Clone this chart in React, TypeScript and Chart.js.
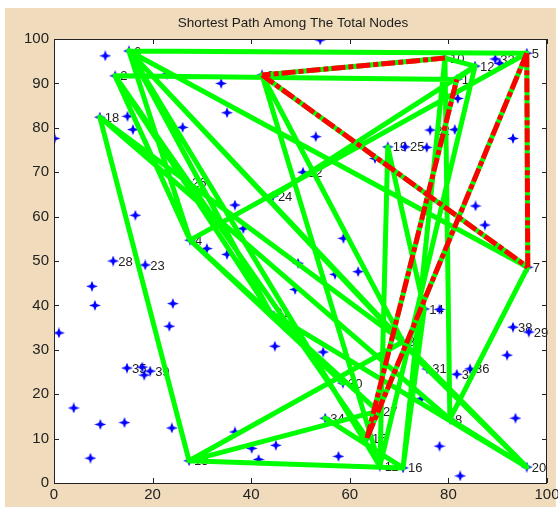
import React, { useEffect, useRef } from "react";
import { Chart, registerables } from "chart.js";
Chart.register(...registerables);

const TITLE = "Shortest Path Among The Total Nodes";
const xTicks = [0, 20, 40, 60, 80, 100];
const yTicks = [0, 10, 20, 30, 40, 50, 60, 70, 80, 90, 100];

// labelled nodes
const nodeIds = [1, 2, 3, 4, 5, 6, 7, 8, 9, 10, 11, 12, 13, 14, 15, 16, 18, 19, 20, 21, 22, 23, 24, 25, 26, 27, 28, 29, 30, 31, 32, 33, 34, 35, 36, 37, 38, 39];
const nodeX = [81.7, 12.4, 70.8, 27.6, 95.9, 15.2, 96.1, 80.3, 42.2, 79.3, 66.1, 85.4, 27.4, 75.1, 63.5, 70.8, 9.3, 67.7, 95.9, 43.8, 76.3, 18.5, 44.4, 71.2, 27.0, 65.7, 12.0, 96.3, 58.6, 75.7, 50.5, 89.5, 55.0, 14.8, 84.4, 81.7, 93.1, 19.5];
const nodeY = [90.9, 91.7, 31.8, 54.7, 96.8, 97.3, 48.6, 14.4, 91.9, 95.7, 3.8, 93.9, 5.0, 39.2, 10.1, 3.4, 82.4, 75.7, 3.6, 38.5, 79.5, 49.1, 64.6, 75.7, 67.8, 16.2, 50.0, 34.0, 22.5, 25.7, 70.0, 95.5, 14.6, 25.9, 25.7, 24.5, 35.1, 25.2];

// unlabelled nodes
const extraX = [10.4, 0.1, 14.9, 16.0, 26.1, 33.9, 35.1, 22.9, 16.5, 36.7, 38.4, 31.0, 35.1, 7.7, 8.3, 24.1, 23.4, 1.0, 48.9, 49.5, 44.8, 4.0, 9.4, 14.3, 23.9, 7.4, 36.7, 40.1, 41.5, 45.0, 54.6, 91.9, 74.5, 93.6, 78.2, 57.7, 82.4, 58.7, 57.0, 61.7, 85.5, 87.4, 78.2, 93.1, 53.1, 81.9, 90.4, 81.3, 75.6, 65.1, 54.0, 17.9, 18.3];
const extraY = [96.2, 77.6, 82.6, 79.6, 80.1, 90.0, 83.4, 92.1, 60.3, 62.6, 57.3, 52.8, 51.5, 44.3, 40.0, 40.4, 35.3, 33.8, 43.6, 49.5, 30.8, 16.9, 13.2, 13.6, 12.4, 5.6, 11.5, 7.8, 5.3, 8.5, 29.5, 28.8, 19.0, 14.6, 8.3, 6.0, 1.6, 55.1, 47.0, 47.6, 62.4, 58.1, 39.1, 77.6, 78.0, 86.6, 94.5, 79.6, 75.6, 73.1, 99.8, 26.1, 24.3];

// green edges (all links)
const edgeFrom = [9, 9, 7, 5, 15, 6, 2, 6, 5, 10, 12, 10, 10, 12, 19, 19, 24, 6, 2, 6, 6, 2, 6, 2, 6, 18, 18, 18, 13, 13, 13, 4, 4, 7, 8, 3, 31, 21, 16, 16, 9, 9];
const edgeTo = [10, 7, 5, 15, 1, 5, 1, 7, 4, 12, 1, 8, 16, 11, 11, 14, 12, 4, 4, 3, 31, 21, 21, 15, 11, 13, 8, 3, 16, 27, 3, 30, 27, 8, 20, 20, 20, 20, 34, 14, 11, 3];

// shortest path links (red dashed)
const pathFrom = [10, 9, 7, 5, 15];
const pathTo = [9, 7, 5, 15, 1];

function pos(id: number) {
  const i = nodeIds.indexOf(id);
  return { x: nodeX[i], y: nodeY[i] };
}

function segs(from: number[], to: number[]) {
  const out: any[] = [];
  for (let k = 0; k < from.length; k++) {
    const a = pos(from[k]);
    const b = pos(to[k]);
    out.push(a, b, { x: b.x, y: null });
  }
  return out;
}

function makeStar() {
  const c = document.createElement("canvas");
  c.width = 12;
  c.height = 11;
  const g = c.getContext("2d")!;
  g.fillStyle = "#0000ff";
  g.beginPath();
  g.moveTo(6, 0);
  g.lineTo(7.6, 3.9);
  g.lineTo(12, 5.5);
  g.lineTo(7.6, 7.1);
  g.lineTo(6, 11);
  g.lineTo(4.4, 7.1);
  g.lineTo(0, 5.5);
  g.lineTo(4.4, 3.9);
  g.closePath();
  g.fill();
  return c;
}

export default function App() {
  const ref = useRef<HTMLCanvasElement>(null);
  useEffect(() => {
    document.body.style.margin = "0";
    const star = makeStar();
    const pts = [
      ...nodeIds.map((_, i) => ({ x: nodeX[i], y: nodeY[i] })),
      ...extraX.map((x, i) => ({ x, y: extraY[i] })),
    ];
    const bg = {
      id: "bg",
      beforeDraw(chart: any) {
        const { ctx, chartArea: a } = chart;
        ctx.save();
        ctx.fillStyle = "#ffffff";
        ctx.fillRect(0, 0, chart.width, chart.height);
        ctx.fillStyle = "#f0dcbc";
        ctx.fillRect(5, 8, 551, 499);
        ctx.fillStyle = "#ffffff";
        ctx.fillRect(a.left, a.top, a.right - a.left, a.bottom - a.top);
        ctx.fillStyle = "#1a1a1a";
        ctx.font = "13.5px 'Liberation Sans', Arial, sans-serif";
        ctx.textAlign = "center";
        ctx.textBaseline = "middle";
        ctx.fillText(TITLE, 293, 23);
        ctx.restore();
      },
    };
    const labels = {
      id: "nodeLabels",
      beforeDatasetsDraw(chart: any) {
        const { ctx } = chart;
        const xs = chart.scales.x;
        const ys = chart.scales.y;
        ctx.save();
        ctx.fillStyle = "#222";
        ctx.font = "13px 'Liberation Sans', Arial, sans-serif";
        ctx.textAlign = "left";
        ctx.textBaseline = "middle";
        nodeIds.forEach((id, i) => {
          ctx.fillText(String(id), xs.getPixelForValue(nodeX[i]) + 5, ys.getPixelForValue(nodeY[i]) + 1);
        });
        ctx.restore();
      },
    };
    const frame = {
      id: "frame",
      afterDatasetsDraw(chart: any) {
        const { ctx, chartArea: a } = chart;
        const xs = chart.scales.x;
        const ys = chart.scales.y;
        ctx.save();
        ctx.strokeStyle = "#222";
        ctx.lineWidth = 1;
        ctx.strokeRect(a.left + 0.5, a.top + 0.5, a.right - a.left - 1, a.bottom - a.top);
        ctx.beginPath();
        xTicks.forEach((t) => {
          const px = Math.round(xs.getPixelForValue(t)) + 0.5;
          ctx.moveTo(px, a.bottom);
          ctx.lineTo(px, a.bottom - 5);
          ctx.moveTo(px, a.top);
          ctx.lineTo(px, a.top + 5);
        });
        yTicks.forEach((t) => {
          const py = Math.round(ys.getPixelForValue(t)) + 0.5;
          ctx.moveTo(a.left, py);
          ctx.lineTo(a.left + 5, py);
          ctx.moveTo(a.right, py);
          ctx.lineTo(a.right - 5, py);
        });
        ctx.stroke();
        ctx.restore();
      },
    };
    const tickFont = { family: "'Liberation Sans', Arial, sans-serif", size: 15 };
    const chart = new Chart(ref.current!, {
      type: "scatter",
      data: {
        datasets: [
          {
            data: pts,
            pointStyle: star as any,
            pointRadius: 5,
            showLine: false,
            order: 3,
          } as any,
          {
            data: segs(edgeFrom, edgeTo),
            showLine: true,
            borderColor: "#00ff00",
            borderWidth: 5,
            pointRadius: 0,
            spanGaps: false,
            borderCapStyle: "round",
            borderJoinStyle: "round",
            order: 2,
          } as any,
          {
            data: segs(pathFrom, pathTo),
            showLine: true,
            borderColor: "#ff0000",
            borderWidth: 5,
            borderDash: [14, 3, 5, 3],
            pointRadius: 0,
            spanGaps: false,
            order: 1,
          } as any,
        ],
      },
      options: {
        responsive: false,
        animation: false,
        events: [],
        layout: { padding: { top: 39, right: 11, left: 0, bottom: 0 } },
        plugins: { legend: { display: false }, title: { display: false }, tooltip: { enabled: false } },
        scales: {
          x: {
            type: "linear",
            min: 0,
            max: 100,
            afterBuildTicks: (s: any) => {
              s.ticks = xTicks.map((v) => ({ value: v }));
            },
            afterFit: (s: any) => {
              s.height = 24;
              s.paddingRight = 0;
              s.paddingLeft = 0;
            },
            grid: { display: false, drawTicks: false },
            border: { display: false },
            ticks: { color: "#222", font: tickFont, padding: 3, maxRotation: 0 },
          },
          y: {
            type: "linear",
            min: 0,
            max: 100,
            afterBuildTicks: (s: any) => {
              s.ticks = yTicks.map((v) => ({ value: v }));
            },
            afterFit: (s: any) => {
              s.width = 54;
              s.paddingTop = 0;
              s.paddingBottom = 0;
            },
            grid: { display: false, drawTicks: false },
            border: { display: false },
            ticks: { color: "#222", font: tickFont, padding: 5 },
          },
        },
      } as any,
      plugins: [bg, labels, frame],
    });
    return () => chart.destroy();
  }, []);
  return (
    <div style={{ width: 558, height: 507 }}>
      <canvas ref={ref} width={558} height={507} style={{ display: "block" }} />
    </div>
  );
}
